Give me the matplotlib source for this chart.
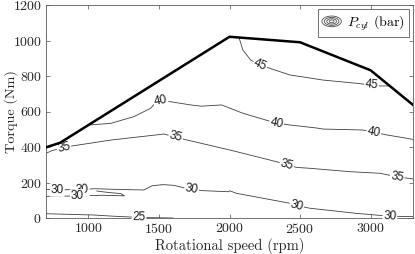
import numpy as np
import matplotlib
matplotlib.use("Agg")
import matplotlib.pyplot as plt
from matplotlib.legend_handler import HandlerBase
from matplotlib.patches import Ellipse, Patch

# full load torque curve
full_load_speed = [700, 800, 2000, 2500, 3000, 3300]
full_load_torque = [398, 424, 1021, 990, 832, 637]

# cylinder pressure iso-lines (bar)
p45_speed = [2069, 2095, 2150, 2216, 2286, 2428, 2664, 2900, 3007, 3066, 3136]
p45_torque = [1012, 946, 890, 862, 843, 806, 777, 759, 749, 744, 744]
p45_labels = [2216, 3007]

p40_speed = [1004, 1158, 1323, 1441, 1477, 1512, 1583, 1725, 1800, 1944, 2095,
             2333, 2428, 2617, 2664, 2941, 3023, 3100, 3300]
p40_torque = [524, 533, 571, 618, 650, 662, 655, 637, 630, 637, 590,
              534, 524, 507, 501, 496, 484, 470, 443]
p40_labels = [1512, 2333, 3023]

p35_speed = [700, 740, 827, 886, 1158, 1536, 1618, 1701, 2003, 2334, 2405,
             2476, 2570, 2853, 3066, 3188, 3300]
p35_torque = [364, 379, 398, 406, 439, 473, 455, 439, 383, 317, 299,
              285, 280, 261, 252, 232, 220]
p35_labels = [827, 1618, 2405, 3188]

p30_speed = [700, 780, 880, 957, 1050, 1200, 1394, 1453, 1530, 1606, 1732, 1814,
             1991, 2003, 2050, 2239, 2428, 2476, 2570, 2900, 3136, 3300]
p30_torque = [162, 158, 160, 161, 165, 161, 158, 182, 188, 184, 160, 154,
              148, 153, 139, 111, 83, 70, 55, 26, 10, 8]
p30_labels = [780, 957, 1732, 2476, 3136]

p30b_speed = [700, 922, 1100, 1255, 1230, 1150, 1060]
p30b_torque = [122, 124, 128, 125, 138, 143, 152]
p30b_labels = [922]

p25_speed = [700, 1035, 1158, 1359, 1600]
p25_torque = [24, 17, 11, 3, 0]
p25_labels = [1359]

iso_lines = [
    (45, p45_speed, p45_torque, p45_labels),
    (40, p40_speed, p40_torque, p40_labels),
    (35, p35_speed, p35_torque, p35_labels),
    (30, p30_speed, p30_torque, p30_labels),
    (30, p30b_speed, p30b_torque, p30b_labels),
    (25, p25_speed, p25_torque, p25_labels),
]

x_ticks = [1000, 1500, 2000, 2500, 3000]
y_ticks = [0, 200, 400, 600, 800, 1000, 1200]

plt.rcParams['font.family'] = 'cmr10'
plt.rcParams['mathtext.fontset'] = 'cm'
plt.rcParams['axes.formatter.use_mathtext'] = True


class HandlerRings(HandlerBase):
    # concentric ellipses like a matlab contour legend icon
    def create_artists(self, legend, orig_handle, xdescent, ydescent,
                       width, height, fontsize, trans):
        cx = width / 2 - xdescent
        cy = height / 2 - ydescent
        rings = []
        for k in range(1, 5):
            rings.append(Ellipse((cx, cy), width * k / 4, height * 1.1 * k / 4,
                                 fill=False, edgecolor='0.3', lw=0.6,
                                 transform=trans))
        return rings


fig = plt.figure(figsize=(4.15, 2.54), dpi=100)
ax = fig.add_axes([46 / 415, 36 / 254, 367 / 415, 213 / 254])
ax.set_xlim(700, 3300)
ax.set_ylim(0, 1200)

for level, spd, trq, labels in iso_lines:
    ax.plot(spd, trq, color='0.25', lw=0.6, zorder=2)
    spd = np.asarray(spd, float)
    trq = np.asarray(trq, float)
    # monotonic part of the line, used to place labels
    n = len(spd)
    for i in range(1, len(spd)):
        if spd[i] <= spd[i - 1]:
            n = i
            break
    for xl in labels:
        yl = np.interp(xl, spd[:n], trq[:n])
        p0 = ax.transData.transform((xl - 40, np.interp(xl - 40, spd[:n], trq[:n])))
        p1 = ax.transData.transform((xl + 40, np.interp(xl + 40, spd[:n], trq[:n])))
        ang = np.degrees(np.arctan2(p1[1] - p0[1], p1[0] - p0[0]))
        ax.text(xl, yl, str(level), family='Liberation Sans', fontsize=8.5,
                color='0.1', ha='center', va='center', rotation=ang,
                rotation_mode='anchor', zorder=3,
                bbox=dict(facecolor='white', edgecolor='none', pad=0.6))

ax.plot(full_load_speed, full_load_torque, color='black', lw=1.8, zorder=4)

ax.set_xticks(x_ticks)
ax.set_yticks(y_ticks)
ax.tick_params(direction='in', top=True, right=True, length=3, width=0.5,
               color='0.3', labelsize=10, labelcolor='0.15', pad=3)
for s in ax.spines.values():
    s.set_color('0.35')
    s.set_linewidth(0.6)

ax.set_xlabel('Rotational speed (rpm)', fontsize=10.5, color='0.15', labelpad=1)
ax.set_ylabel('Torque (Nm)', fontsize=10.2, color='0.15')
ax.yaxis.set_label_coords(-0.077, 0.5)

proxy = Patch()
leg = ax.legend([proxy], [r'$P_{cyl}$ (bar)'], handler_map={proxy: HandlerRings()},
                loc='upper right', fontsize=10, fancybox=False, framealpha=1,
                edgecolor='0.35', handlelength=1.4, handletextpad=0.4,
                borderpad=0.3, borderaxespad=0.3)
leg.get_frame().set_linewidth(0.6)

fig.savefig('out.png', dpi=100)
